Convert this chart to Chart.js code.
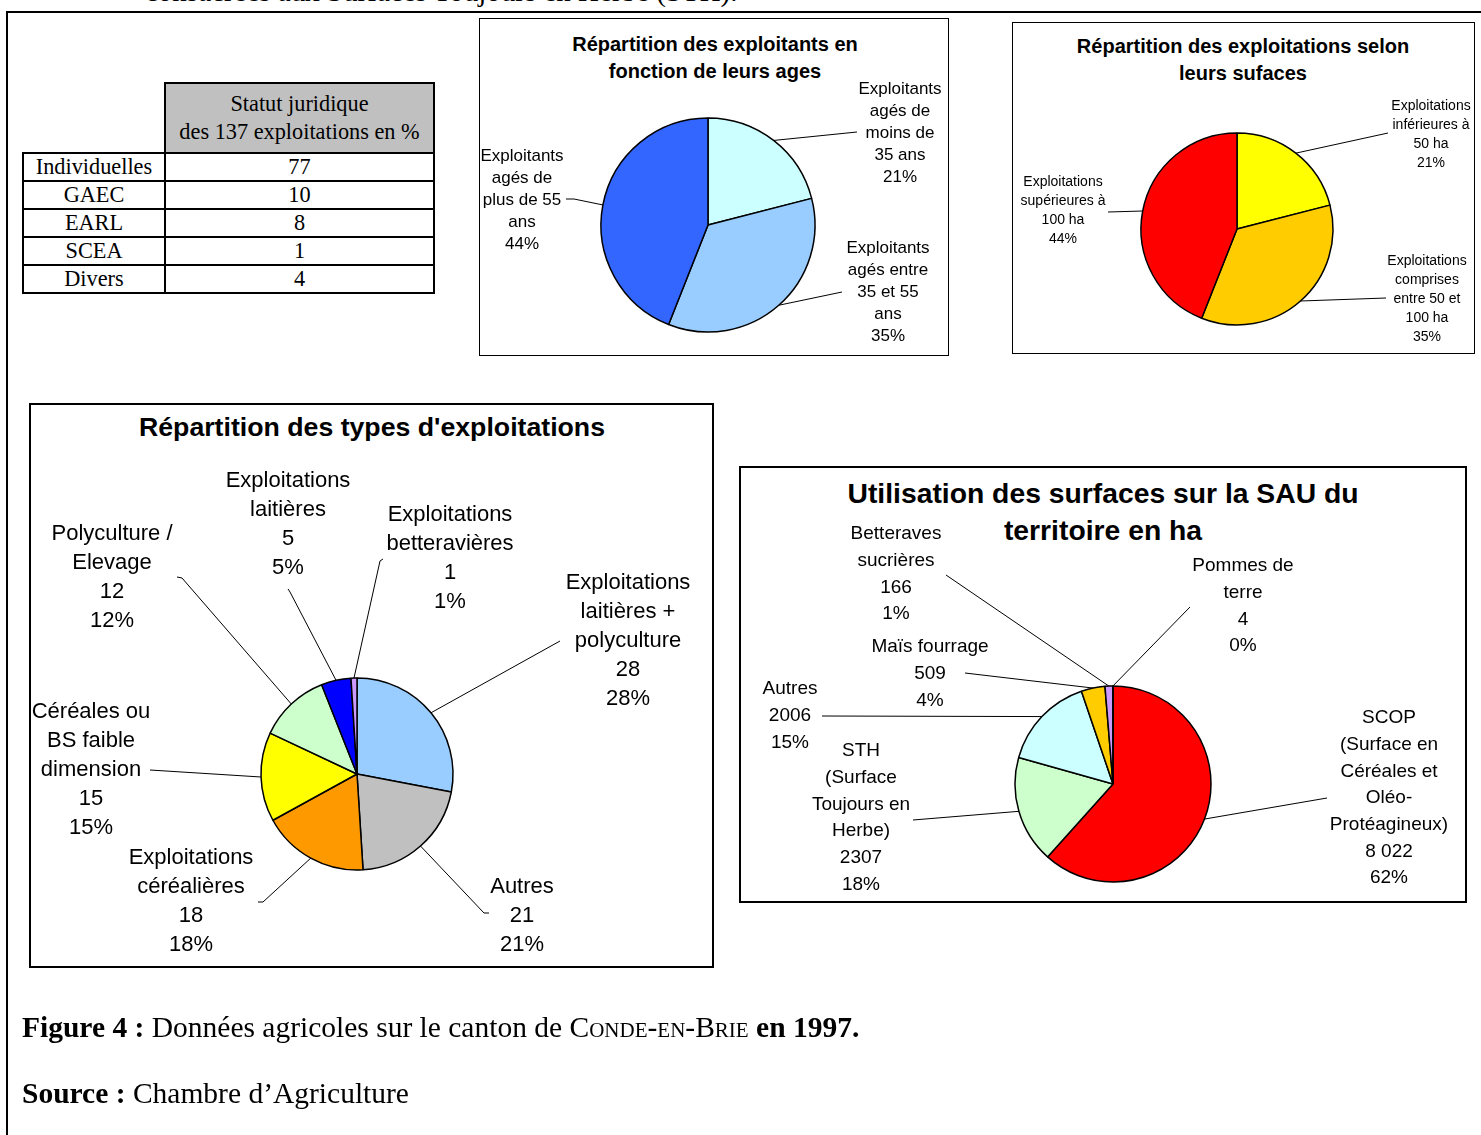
<!DOCTYPE html>
<html>
<head>
<meta charset="utf-8">
<script src="https://cdn.jsdelivr.net/npm/chart.js@4.4.1/dist/chart.umd.min.js"></script>
<style>
  body { margin: 0; width: 1481px; height: 1135px; position: relative; overflow: hidden; background: #fff;
         font-family: "Liberation Sans", Arial, sans-serif; color: #000; }
  canvas { position: absolute; left: 0; top: 0; pointer-events: none; }
  .box { position: absolute; border: 2px solid #000; box-sizing: border-box; }
  .title { position: absolute; font-weight: bold; text-align: center; white-space: nowrap; transform: translateX(-50%); }
  .serif { font-family: "Liberation Serif", "Times New Roman", serif; }
  #statut { position: absolute; left: 22px; top: 82px; border-collapse: collapse; font-size: 22.3px; }
  #statut td { border: 2.5px solid #000; text-align: center; padding: 0; height: 26px; line-height: 26px; }
  #statut td.blank { border: none; }
  #statut td.head { background: #c0c0c0; height: 68px; line-height: 28px; }
</style>
</head>
<body>

<!-- cadre de la figure -->
<div style="position:absolute;left:6px;top:11px;width:1480px;height:1130px;border-left:2px solid #000;border-top:2px solid #000;"></div>
<div class="serif" style="position:absolute;left:145px;top:-25px;font-size:29px;white-space:nowrap;">consacrées aux Surfaces Toujours en Herbe (STH).</div>

<table id="statut" class="serif"></table>

<div class="box" style="left:479px;top:18px;width:470px;height:338px;border-width:1.5px;"></div>
<div class="title" style="left:715px;top:31px;font-size:20px;line-height:27px;">Répartition des exploitants en<br>fonction de leurs ages</div>

<div class="box" style="left:1012px;top:22px;width:463px;height:332px;border-width:1.5px;"></div>
<div class="title" style="left:1243px;top:33px;font-size:20px;line-height:27px;">Répartition des exploitations selon<br>leurs sufaces</div>

<div class="box" style="left:29px;top:403px;width:685px;height:565px;"></div>
<div class="title" style="left:372px;top:411px;font-size:26.7px;line-height:32px;">Répartition des types d'exploitations</div>

<div class="box" style="left:739px;top:466px;width:728px;height:437px;"></div>
<div class="title" style="left:1103px;top:475px;font-size:28.3px;line-height:37px;">Utilisation des surfaces sur la SAU du<br>territoire en ha</div>

<canvas id="agesChart" width="1481" height="1135"></canvas>
<canvas id="surfChart" width="1481" height="1135"></canvas>
<canvas id="typesChart" width="1481" height="1135"></canvas>
<canvas id="sauChart" width="1481" height="1135"></canvas>

<div class="serif" style="position:absolute;left:22px;top:1010px;font-size:29.5px;line-height:34px;white-space:nowrap;">
  <b>Figure 4 :</b> Données agricoles sur le canton de <span style="font-variant:small-caps;">Conde-en-Brie</span> <b>en 1997.</b>
</div>
<div class="serif" style="position:absolute;left:22px;top:1076px;font-size:29.5px;line-height:34px;white-space:nowrap;">
  <b>Source :</b> Chambre d’Agriculture
</div>

<script>
// Statut juridique (tableau)
const statutLabels = ['Individuelles', 'GAEC', 'EARL', 'SCEA', 'Divers'];
const statutValues = [77, 10, 8, 1, 4];

// Exploitants par age (%)
const agesLabels = ['Exploitants\nagés de\nmoins de\n35 ans', 'Exploitants\nagés entre\n35 et 55\nans', 'Exploitants\nagés de\nplus de 55\nans'];
const agesValues = [21, 35, 44];

// Exploitations par surface (%)
const surfLabels = ['Exploitations\ninférieures à\n50 ha', 'Exploitations\ncomprises\nentre 50 et\n100 ha', 'Exploitations\nsupérieures à\n100 ha'];
const surfValues = [21, 35, 44];

// Types d'exploitations (nombre)
const typesLabels = ['Exploitations\nlaitières +\npolyculture', 'Autres', 'Exploitations\ncéréalières',
  'Céréales ou\nBS faible\ndimension', 'Polyculture /\nElevage', 'Exploitations\nlaitières', 'Exploitations\nbetteravières'];
const typesValues = [28, 21, 18, 15, 12, 5, 1];

// Utilisation de la SAU (ha)
const sauLabels = ['SCOP\n(Surface en\nCéréales et\nOléo-\nProtéagineux)', 'STH\n(Surface\nToujours en\nHerbe)', 'Autres',
  'Maïs fourrage', 'Betteraves\nsucrières', 'Pommes de\nterre'];
const sauValues = [8022, 2307, 2006, 509, 166, 4];
const sauValueText = ['8 022', '2307', '2006', '509', '166', '4'];

// tableau
const tbl = document.getElementById('statut');
tbl.innerHTML = '<tr><td class="blank" style="width:141px"></td><td class="head" style="width:267px">Statut juridique<br>des 137 exploitations en %</td></tr>' +
  statutLabels.map((l, i) => '<tr><td>' + l + '</td><td>' + statutValues[i] + '</td></tr>').join('');

const pct = (vals) => {
  const tot = vals.reduce((a, b) => a + b, 0);
  return vals.map(v => Math.round(v / tot * 100) + '%');
};

// étiquettes avec lignes de rappel
const leaderLabels = {
  id: 'leaderLabels',
  afterDatasetsDraw(chart, args, opts) {
    const ctx = chart.ctx;
    const arcs = chart.getDatasetMeta(0).data;
    ctx.save();
    ctx.font = opts.font;
    ctx.fillStyle = '#000';
    ctx.strokeStyle = '#000';
    ctx.lineWidth = 1;
    ctx.textAlign = 'center';
    ctx.textBaseline = 'middle';
    opts.items.forEach((it, i) => {
      const p = arcs[i].getProps(['x', 'y', 'startAngle', 'endAngle', 'outerRadius'], true);
      const mid = (p.startAngle + p.endAngle) / 2;
      ctx.beginPath();
      it.pts.forEach((q, k) => k ? ctx.lineTo(q[0], q[1]) : ctx.moveTo(q[0], q[1]));
      ctx.lineTo(p.x + Math.cos(mid) * p.outerRadius, p.y + Math.sin(mid) * p.outerRadius);
      ctx.stroke();
      opts.texts[i].forEach((t, k) => ctx.fillText(t, it.x, it.y + k * opts.lh));
    });
    ctx.restore();
  }
};

function makePie(id, values, colors, geo, texts, items, font, lh) {
  const W = 1481, H = 1135;
  new Chart(document.getElementById(id), {
    type: 'pie',
    data: {
      datasets: [{
        data: values,
        backgroundColor: colors,
        borderColor: '#000',
        borderWidth: 1.5,
        radius: geo.r
      }]
    },
    options: {
      responsive: false,
      animation: false,
      devicePixelRatio: 1,
      events: [],
      layout: { padding: { left: geo.cx - geo.r - 2, right: W - geo.cx - geo.r - 2, top: geo.cy - geo.r - 2, bottom: H - geo.cy - geo.r - 2 } },
      plugins: {
        legend: { display: false },
        tooltip: { enabled: false },
        leaderLabels: { texts: texts, items: items, font: font, lh: lh }
      }
    },
    plugins: [leaderLabels]
  });
}

// 1. ages
const agesPct = pct(agesValues);
makePie('agesChart', agesValues, ['#ccffff', '#99ccff', '#3366ff'], { cx: 708, cy: 225, r: 107 },
  agesLabels.map((l, i) => l.split('\n').concat(agesPct[i])),
  [{ x: 900, y: 89, pts: [[857, 132]] },
   { x: 888, y: 248, pts: [[842, 292]] },
   { x: 522, y: 156, pts: [[566, 199], [574, 199]] }],
  '17px "Liberation Sans", Arial, sans-serif', 22);

// 2. surfaces
const surfPct = pct(surfValues);
makePie('surfChart', surfValues, ['#ffff00', '#ffcc00', '#ff0000'], { cx: 1237, cy: 229, r: 96 },
  surfLabels.map((l, i) => l.split('\n').concat(surfPct[i])),
  [{ x: 1431, y: 106, pts: [[1388, 133]] },
   { x: 1427, y: 261, pts: [[1386, 298]] },
   { x: 1063, y: 182, pts: [[1108, 212]] }],
  '14px "Liberation Sans", Arial, sans-serif', 19);

// 3. types
const typesPct = pct(typesValues);
makePie('typesChart', typesValues, ['#99ccff', '#c0c0c0', '#ff9900', '#ffff00', '#ccffcc', '#0000ff', '#cc99ff'],
  { cx: 357, cy: 774, r: 96 },
  typesLabels.map((l, i) => l.split('\n').concat(String(typesValues[i]), typesPct[i])),
  [{ x: 628, y: 583, pts: [[560, 641]] },
   { x: 522, y: 887, pts: [[489, 913], [484, 913]] },
   { x: 191, y: 858, pts: [[258, 902], [263, 902]] },
   { x: 91, y: 712, pts: [[150, 770]] },
   { x: 112, y: 534, pts: [[177, 577], [182, 578]] },
   { x: 288, y: 481, pts: [[288, 589], [290, 592]] },
   { x: 450, y: 515, pts: [[383, 559], [380, 561]] }],
  '22px "Liberation Sans", Arial, sans-serif', 29);

// 4. SAU
const sauPct = pct(sauValues);
makePie('sauChart', sauValues, ['#ff0000', '#ccffcc', '#ccffff', '#ffcc00', '#cc99ff', '#ff99cc'],
  { cx: 1113, cy: 784, r: 98 },
  sauLabels.map((l, i) => l.split('\n').concat(sauValueText[i], sauPct[i])),
  [{ x: 1389, y: 718, pts: [[1327, 798]] },
   { x: 861, y: 751, pts: [[913, 820]] },
   { x: 790, y: 689, pts: [[822, 716]] },
   { x: 930, y: 647, pts: [[965, 673]] },
   { x: 896, y: 534, pts: [[946, 575]] },
   { x: 1243, y: 566, pts: [[1190, 607]] }],
  '19px "Liberation Sans", Arial, sans-serif', 26.7);
</script>
</body>
</html>
